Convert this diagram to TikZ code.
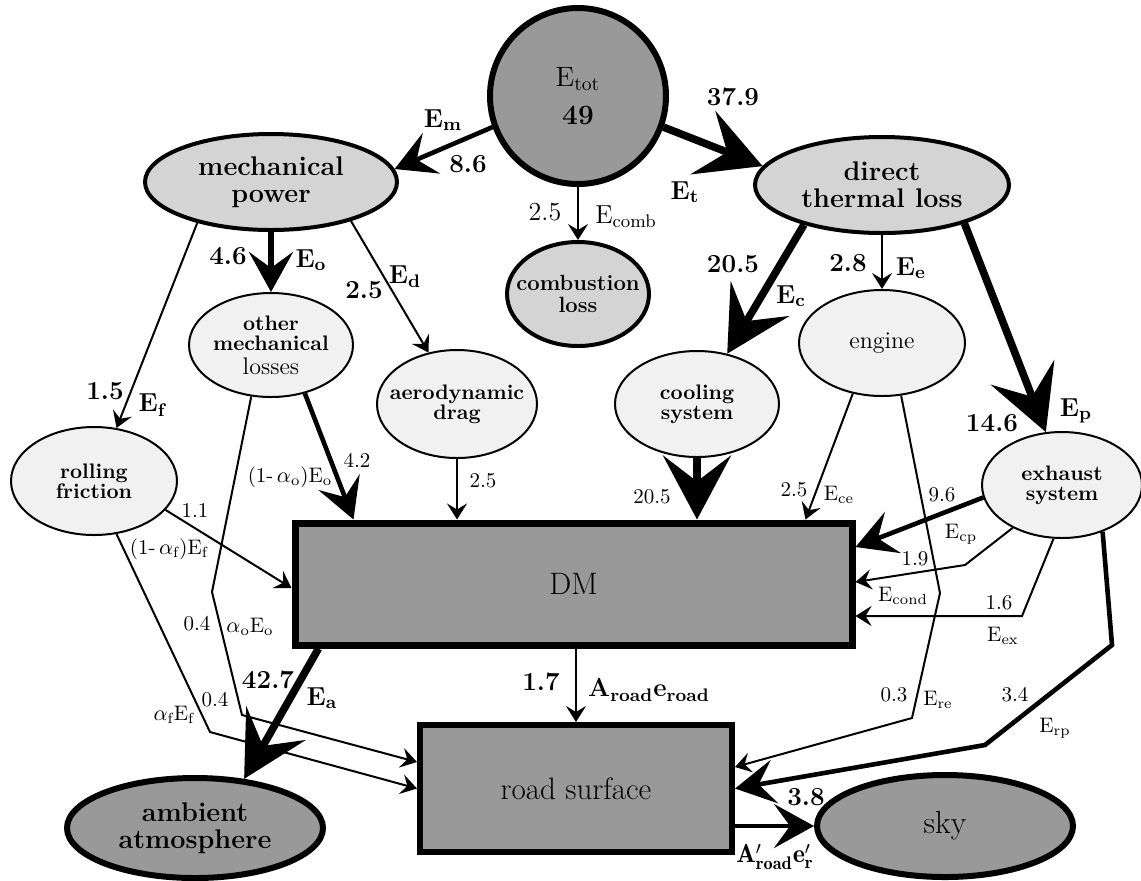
\documentclass[tikz,border=0pt]{standalone}
\usepackage{fontspec}
\usepackage{tikz}
\usetikzlibrary{arrows.meta,shapes.geometric}
\definecolor{darkfill}{RGB}{153,153,153}
\definecolor{midfill}{RGB}{212,212,212}
\definecolor{lightfill}{RGB}{241,241,241}

\begin{document}
\begin{tikzpicture}[x=0.5pt, y=-0.5pt, every node/.style={align=center,inner sep=0pt}, sink/.style={ellipse,draw,line width=3pt,fill=darkfill,inner xsep=-8pt,inner ysep=-4pt,font=\fontsize{13.5}{13.5}\selectfont\bfseries}, hub/.style={ellipse,draw,line width=2pt,fill=midfill,inner xsep=-8pt,inner ysep=-4pt,minimum width=126pt,minimum height=48pt,font=\fontsize{13.5}{13.5}\selectfont\bfseries}, part/.style={ellipse,draw,line width=1pt,fill=lightfill,inner xsep=-8pt,inner ysep=-4pt,minimum width=82pt,minimum height=53pt,font=\fontsize{10.5}{10}\selectfont\bfseries}, block/.style={rectangle,draw,fill=darkfill,font=\fontsize{15.5}{16}\selectfont}, lbl/.style={font=\fontsize{13}{13}\selectfont\bfseries}, slbl/.style={font=\fontsize{10.5}{10.5}\selectfont}, flowthin/.style={line width=1pt,-{Stealth[length=8pt,width=10pt,inset=3pt]}}, flowmid/.style={line width=2.3pt,-{Stealth[length=20pt,width=22pt,inset=8pt]}}, flowfat/.style={line width=3.8pt,-{Stealth[length=32pt,width=34pt,inset=13pt]}}]
  \useasboundingbox (0,0) rectangle (1141,880);
  % sources and intermediate stores
  \node[circle,draw,line width=3pt,fill=darkfill,minimum size=88pt,font=\fontsize{14}{14}\selectfont] (tot) at (578,96) {E\textsubscript{tot}\\[5pt]\textbf{49}};
  \node[hub] (mech) at (271,182) {mechanical\\power};
  \node[hub,minimum width=127pt] (dtl) at (882,185) {direct\\thermal loss};
  \node[hub,minimum width=71pt,minimum height=52pt,font=\fontsize{11}{11}\selectfont\bfseries] (comb) at (578,294) {combustion\\loss};
  \node[part,minimum height=52pt] (oml) at (271,345) {other\\mechanical\\[2pt]{\fontsize{12}{12}\selectfont\mdseries losses}};
  \node[part,minimum width=80pt,minimum height=54pt] (aero) at (457,404) {aerodynamic\\drag};
  \node[part,minimum height=53pt] (cool) at (697,404) {cooling\\system};
  \node[part,minimum width=83pt,font=\fontsize{12}{12}\selectfont] (eng) at (882,343) {engine};
  \node[part,minimum width=80pt] (exh) at (1062,485) {exhaust\\system};
  \node[part,minimum width=83pt,minimum height=54pt] (roll) at (94,481) {rolling\\friction};
  % sinks
  \node[block,line width=3.5pt,minimum width=278.5pt,minimum height=61pt] (dm) at (573.5,584) {DM};
  \node[block,line width=3pt,minimum width=156pt,minimum height=63.5pt] (road) at (576,788.5) {road surface};
  \node[sink,minimum width=128pt,minimum height=50pt] (amb) at (195,828) {ambient\\atmosphere};
  \node[sink,minimum width=128pt,minimum height=51pt,font=\fontsize{16}{16}\selectfont] (sky) at (945,826) {sky};
  % flows
  \draw[flowmid] (tot.200) -- (mech.6);
  \draw[flowfat] (tot.-20) -- (dtl.171);
  \draw[flowthin] (tot.south) -- (comb.north);
  \draw[flowmid,line width=3pt] (mech.south) -- (oml.north);
  \draw[flowthin] (mech.-26) -- (aero.119);
  \draw[flowthin] (mech.-151) -- (roll.67);
  \draw[flowfat] (dtl.-153) -- (cool.59);
  \draw[flowthin] (dtl.south) -- (eng.north);
  \draw[flowfat] (dtl.-25) -- (exh.107);
  \draw[flowmid] (oml.-55) -- ([xshift=31pt]dm.north west);
  \draw[flowthin] (oml.-111) -- (212,592) -- (242,715) -- ([yshift=13.25pt]road.west);
  \draw[flowthin] (roll.-22) -- ([yshift=-2pt]dm.west);
  \draw[flowthin] (roll.-67) -- (210,732) -- (road.west);
  \draw[flowthin] (aero.south) -- (aero.south |- dm.north);
  \draw[flowfat] (cool.south) -- (cool.south |- dm.north);
  \draw[flowthin] (eng.-120) -- ([xshift=-25pt]dm.north east);
  \draw[flowthin] (eng.-70) -- (940,593) -- (912,718) -- ([yshift=10.75pt]road.east);
  \draw[flowmid] (exh.189) -- ([yshift=18.5pt]dm.east);
  \draw[flowthin] (exh.-139) -- (965,565) -- ([yshift=1pt]dm.east);
  \draw[flowthin] (exh.-99) -- (1022,616) -- ([yshift=-16pt]dm.east);
  \draw[flowmid] (exh.-49) -- (1112,645) -- (985,745) -- (road.east);
  \draw[flowfat] ([xshift=13.5pt]dm.south west) -- (amb.45);
  \draw[flowthin] (road.north |- dm.south) -- (road.north);
  \draw[flowmid] (road.east |- sky.west) -- (sky.west);
  % flow labels
  \node[lbl] (l-em) at (443,120) {E\textsubscript{m}};
  \node[lbl] (v-em) at (468,164) {8.6};
  \node[lbl] (v-et) at (733,97) {37.9};
  \node[lbl] (l-et) at (685,192) {E\textsubscript{t}};
  \node[lbl] (v-comb) at (545,212) {\mdseries 2.5};
  \node[lbl] (l-comb) at (626,217) {\mdseries E\textsubscript{comb}};
  \node[lbl] (v-eo) at (228,256) {4.6};
  \node[lbl] (l-eo) at (311,260) {E\textsubscript{o}};
  \node[lbl] (v-ed) at (364,290) {2.5};
  \node[lbl] (l-ed) at (405,277) {E\textsubscript{d}};
  \node[lbl] (v-ef) at (105,391) {1.5};
  \node[lbl] (l-ef) at (152,405) {E\textsubscript{f}};
  \node[lbl] (v-ec) at (733,264) {20.5};
  \node[lbl] (l-ec) at (791,296) {E\textsubscript{c}};
  \node[lbl] (v-ee) at (848,263) {2.8};
  \node[lbl] (l-ee) at (911,268) {E\textsubscript{e}};
  \node[lbl] (v-ep) at (992,423) {14.6};
  \node[lbl] (l-ep) at (1076,411) {E\textsubscript{p}};
  \node[slbl] (v-oml) at (357,460) {4.2};
  \node[slbl] (l-oml) at (290,477) {(1-\,$\alpha$\textsubscript{o})E\textsubscript{o}};
  \node[slbl] (v-roll) at (195,510) {1.1};
  \node[slbl] (l-roll) at (169,549) {(1-\,$\alpha$\textsubscript{f})E\textsubscript{f}};
  \node[slbl] (v-ao) at (197,624) {0.4};
  \node[slbl] (l-ao) at (250,627) {$\alpha$\textsubscript{o}E\textsubscript{o}};
  \node[slbl] (v-af) at (215,700) {0.4};
  \node[slbl] (l-af) at (174,715) {$\alpha$\textsubscript{f}E\textsubscript{f}};
  \node[slbl] (v-aero) at (483,481) {2.5};
  \node[slbl] (v-cool) at (652,497) {20.5};
  \node[slbl] (v-ce) at (794,490) {2.5};
  \node[slbl] (l-ce) at (839,495) {E\textsubscript{ce}};
  \node[slbl] (v-cp) at (942,495) {9.6};
  \node[slbl] (l-cp) at (961,534) {E\textsubscript{cp}};
  \node[slbl] (v-cond) at (915,559) {1.9};
  \node[slbl] (l-cond) at (903,596) {E\textsubscript{cond}};
  \node[slbl] (v-ex) at (999,603) {1.6};
  \node[slbl] (l-ex) at (1003,636) {E\textsubscript{ex}};
  \node[slbl] (v-re) at (894,695) {0.3};
  \node[slbl] (l-re) at (938,700) {E\textsubscript{re}};
  \node[slbl] (v-rp) at (1015,695) {3.4};
  \node[slbl] (l-rp) at (1055,728) {E\textsubscript{rp}};
  \node[lbl] (v-ea) at (268,680) {42.7};
  \node[lbl] (l-ea) at (322,698) {E\textsubscript{a}};
  \node[lbl] (v-road) at (541,682) {1.7};
  \node[lbl] (l-road) at (649,690) {A\textsubscript{road}e\textsubscript{road}};
  \node[lbl] (v-sky) at (806,797) {3.8};
  \node[lbl] (l-sky) at (775,857) {$\mathbf{A}'_{\mathbf{road}}\mathbf{e}'_{\mathbf{r}}$};
\end{tikzpicture}
\end{document}
